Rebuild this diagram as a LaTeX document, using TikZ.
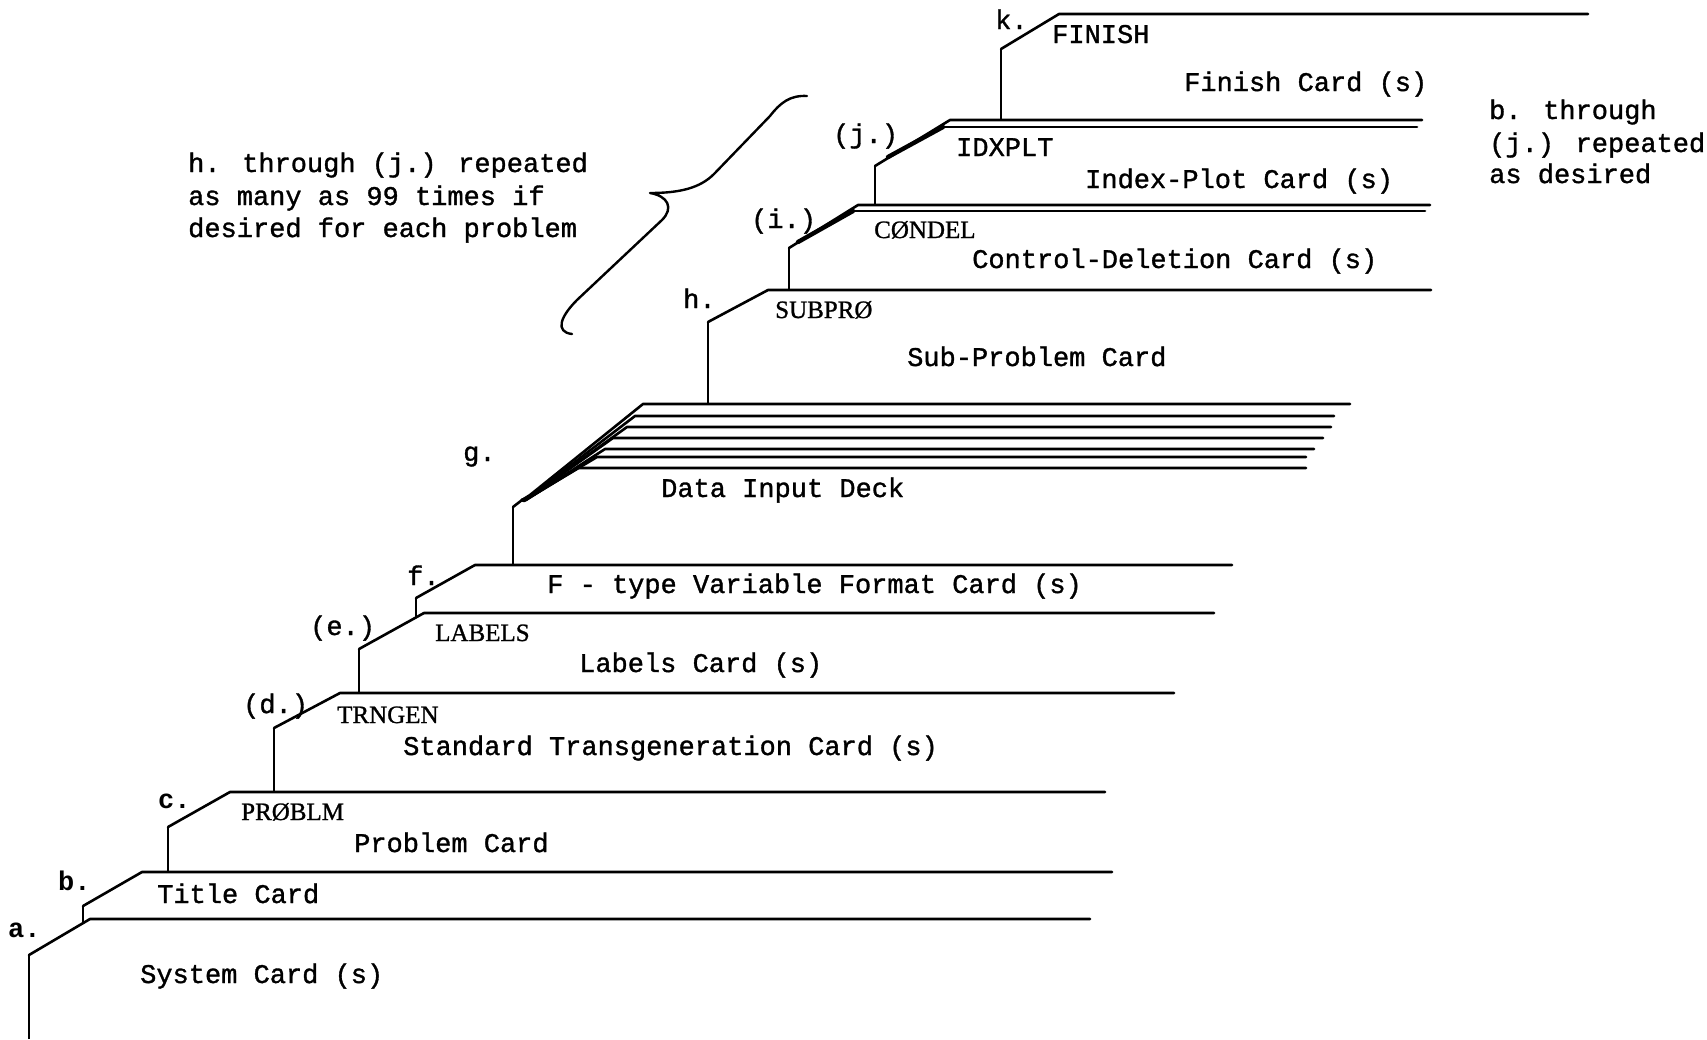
\documentclass[tikz,border=0pt]{standalone}
\usepackage{fontspec}
\newfontfamily\monof[FakeBold=1.2]{Liberation Mono}
\newfontfamily\monob{Liberation Mono}
\newfontfamily\seriff[FakeBold=1.0]{Liberation Serif}
\begin{document}
\begin{tikzpicture}[x=1pt,y=-1pt,
  edge/.style={line width=2.6pt, line join=round, line cap=round},
  thickedge/.style={line width=4.4pt, line cap=round},
  riser/.style={line width=1.8pt},
  mtxt/.style={anchor=base west, inner sep=0pt, font=\monof\fontsize{27}{32}\selectfont},
  btxt/.style={anchor=base west, inner sep=0pt, font=\monob\bfseries\fontsize{27}{32}\selectfont},
  stxt/.style={anchor=base west, inner sep=0pt, font=\seriff\fontsize{25}{30}\selectfont}]
\useasboundingbox (0,0) rectangle (1707,1039);

% a. System card
\draw[riser] (29,1039) -- (29,955);
\draw[edge] (29,955) -- (90,919) -- (1090,919);
% b. Title card
\draw[riser] (83,923) -- (83,906);
\draw[edge] (83,906) -- (142,872) -- (1112,872);
% c. Problem card
\draw[riser] (168,872) -- (168,827);
\draw[edge] (168,827) -- (230,792) -- (1105,792);
% d. TRNGEN
\draw[riser] (274,792) -- (274,728);
\draw[edge] (274,728) -- (340,693) -- (1174,693);
% e. LABELS
\draw[riser] (359,693) -- (359,649);
\draw[edge] (359,649) -- (424,613) -- (1214,613);
% f. F-type
\draw[riser] (416,617) -- (416,598);
\draw[edge] (416,598) -- (475,565) -- (1232,565);
% g. Data deck
\draw[riser] (513,565) -- (513,507);
\coordinate (dk) at (522,500);
\draw[edge] (513,507) -- (dk);
\foreach \sx/\sy/\ex/\cx/\cy in {643/404/1350/530/495, 635/416/1334/529/497, 627/427/1331/528/498, 613/438/1323/527/499, 605/449/1314/526/500, 597/457/1306/525/500, 578/468/1306/524/501}{
  \draw[edge] (dk) -- (\cx,\cy) -- (\sx,\sy) -- (\ex,\sy);
}
% h. SUBPRO
\draw[riser] (708,404) -- (708,322);
\draw[edge] (708,322) -- (768,290) -- (1431,290);
% (i.) CONDEL
\draw[riser] (789,290) -- (789,248);
\draw[edge] (789,248) -- (858,205) -- (1430,205);
\draw[edge] (855,211) -- (1425,211);
\draw[thickedge] (798,242) -- (853,211);
% (j.) IDXPLT
\draw[riser] (875,205) -- (875,166);
\draw[edge] (875,166) -- (950,120) -- (1422,120);
\draw[edge] (945,127) -- (1417,127);
\draw[thickedge] (888,157) -- (943,127);
% k. FINISH
\draw[riser] (1001,120) -- (1001,49);
\draw[edge] (1001,49) -- (1059,14) -- (1588,14);

% brace
\draw[line width=2.4pt, line cap=round, line join=round]
  (807,96) .. controls (790,95) and (780,103) .. (770,116) -- (714,174)
  .. controls (700,188) and (680,193) .. (650,193)
  .. controls (668,196) and (674,208) .. (662,220) -- (577,300)
  .. controls (560,317) and (555,332) .. (572,334);

% card labels
\node[mtxt] (tsys) at (140,983) {System Card (s)};
\node[mtxt] (ttit) at (157,903) {Title Card};
\node[mtxt] (tprob) at (354,852) {Problem Card};
\node[mtxt] (ttrn) at (403,755) {Standard Transgeneration Card (s)};
\node[mtxt] (tlab) at (579,672) {Labels Card (s)};
\node[mtxt] (tfty) at (547,593) {F - type Variable Format Card (s)};
\node[mtxt] (tdat) at (661,497) {Data Input Deck};
\node[mtxt] (tsub) at (907,366) {Sub-Problem Card};
\node[mtxt] (tcon) at (972,268) {Control-Deletion Card (s)};
\node[mtxt] (tidx) at (1085,188) {Index-Plot Card (s)};
\node[mtxt] (tfin) at (1184,91) {Finish Card (s)};

% code words
\node[mtxt] (kfin) at (1052,43) {FINISH};
\node[mtxt] (kidx) at (956,156) {IDXPLT};
\node[stxt] (kcon) at (874,238) {CØNDEL};
\node[stxt] (ksub) at (775,318) {SUBPRØ};
\node[stxt] (klab) at (435,641) {LABELS};
\node[stxt] (ktrn) at (337,723) {TRNGEN};
\node[stxt] (kprb) at (241,820) {PRØBLM};

% step letters
\node[btxt] (la) at (8,937) {a.};
\node[btxt] (lb) at (58,890) {b.};
\node[btxt] (lc) at (158,808) {c.};
\node[mtxt] (ld) at (243,713) {(d.)};
\node[mtxt] (le) at (310,635) {(e.)};
\node[mtxt] (lf) at (407,585) {f.};
\node[mtxt] (lg) at (463,461) {g.};
\node[mtxt] (lh) at (683,308) {h.};
\node[mtxt] (li) at (751,228) {(i.)};
\node[mtxt] (lj) at (833,143) {(j.)};
\node[mtxt] (lk) at (995,29) {k.};

% notes
\node[mtxt] (n1) at (188,172) {h. through (j.) repeated};
\node[mtxt] (n2) at (188,205) {as many as 99 times if};
\node[mtxt] (n3) at (188,237) {desired for each problem};
\node[mtxt] (r1) at (1489,119) {b. through};
\node[mtxt] (r2) at (1489,152) {(j.) repeated};
\node[mtxt] (r3) at (1489,183) {as desired};
\end{tikzpicture}
\end{document}
